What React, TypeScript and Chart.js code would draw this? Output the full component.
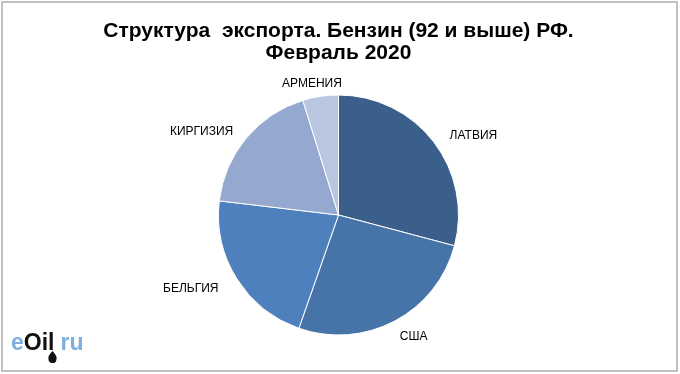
import React, { useEffect, useRef } from "react";
import { Chart, registerables } from "chart.js";

Chart.register(...registerables);

const titleLines = ["Структура  экспорта. Бензин (92 и выше) РФ.", "Февраль 2020"];
const categories = ["ЛАТВИЯ", "США", "БЕЛЬГИЯ", "КИРГИЗИЯ", "АРМЕНИЯ"];
const shares = [29.1, 26.2, 21.5, 18.3, 4.8];
const sliceColors = ["#3A5F8B", "#4673A8", "#4D80BD", "#95A8CF", "#B9C6E0"];

const FONT = "'Liberation Sans', Arial, sans-serif";

const framePlugin = {
  id: "frame",
  beforeDraw(chart: any) {
    const { ctx, width, height } = chart;
    ctx.save();
    ctx.fillStyle = "#ffffff";
    ctx.fillRect(0, 0, width, height);
    ctx.restore();
  },
  afterDraw(chart: any) {
    const { ctx } = chart;
    ctx.save();
    ctx.strokeStyle = "#bfbfbf";
    ctx.lineWidth = 2;
    ctx.strokeRect(2, 2, 675, 369);
    // logo
    ctx.textBaseline = "alphabetic";
    ctx.textAlign = "left";
    ctx.font = `bold 23px ${FONT}`;
    let x = 11;
    const y = 350;
    ctx.fillStyle = "#7db0de";
    ctx.fillText("e", x, y);
    x += ctx.measureText("e").width;
    ctx.fillStyle = "#111111";
    ctx.fillText("Oil", x, y);
    x += ctx.measureText("Oil").width;
    const dropX = x - 2;
    x += 6;
    ctx.fillStyle = "#7db0de";
    ctx.fillText("ru", x, y);
    // drop
    ctx.fillStyle = "#111111";
    ctx.beginPath();
    ctx.moveTo(dropX, 351);
    ctx.quadraticCurveTo(dropX + 5, 356, dropX + 4, 359.5);
    ctx.arc(dropX, 359, 4, 0.1, Math.PI - 0.1, false);
    ctx.quadraticCurveTo(dropX - 5, 356, dropX, 351);
    ctx.fill();
    ctx.restore();
  },
};

const labelPlugin = {
  id: "outerLabels",
  afterDatasetsDraw(chart: any) {
    const { ctx } = chart;
    const meta = chart.getDatasetMeta(0);
    const labels = chart.data.labels as string[];
    ctx.save();
    ctx.font = `12px ${FONT}`;
    ctx.fillStyle = "#000000";
    ctx.textAlign = "center";
    ctx.textBaseline = "middle";
    meta.data.forEach((arc: any, i: number) => {
      const p = arc.getProps(["x", "y", "startAngle", "endAngle", "outerRadius"], true);
      const mid = (p.startAngle + p.endAngle) / 2;
      const ux = Math.cos(mid);
      const uy = Math.sin(mid);
      const w = ctx.measureText(labels[i]).width;
      const h = 12;
      const cx = p.x + p.outerRadius * 1.22 * ux + (ux * w) / 2;
      const cy = p.y + p.outerRadius * 1.075 * uy + (uy * h) / 2 + 2.5;
      ctx.fillText(labels[i], cx, cy);
    });
    ctx.restore();
  },
};

export default function App() {
  const ref = useRef<HTMLCanvasElement | null>(null);
  useEffect(() => {
    document.body.style.margin = "0";
    if (!ref.current) return;
    const chart = new Chart(ref.current, {
      type: "pie",
      data: {
        labels: categories,
        datasets: [
          {
            data: shares,
            backgroundColor: sliceColors,
            borderColor: "#ffffff",
            borderWidth: 1,
          },
        ],
      },
      options: {
        responsive: false,
        animation: false,
        layout: { padding: { top: 8, bottom: 38.5, left: 0, right: 3 } },
        plugins: {
          legend: { display: false },
          tooltip: { enabled: false },
          title: {
            display: true,
            text: titleLines,
            color: "#000000",
            font: { family: FONT, size: 21, weight: "bold", lineHeight: 1.05 },
            padding: { top: 12, bottom: 30.4 },
          },
        },
      },
      plugins: [framePlugin, labelPlugin],
    });
    return () => chart.destroy();
  }, []);
  return (
    <div style={{ position: "absolute", left: 0, top: 0, width: 680, height: 374 }}>
      <canvas ref={ref} width={680} height={374} />
    </div>
  );
}
